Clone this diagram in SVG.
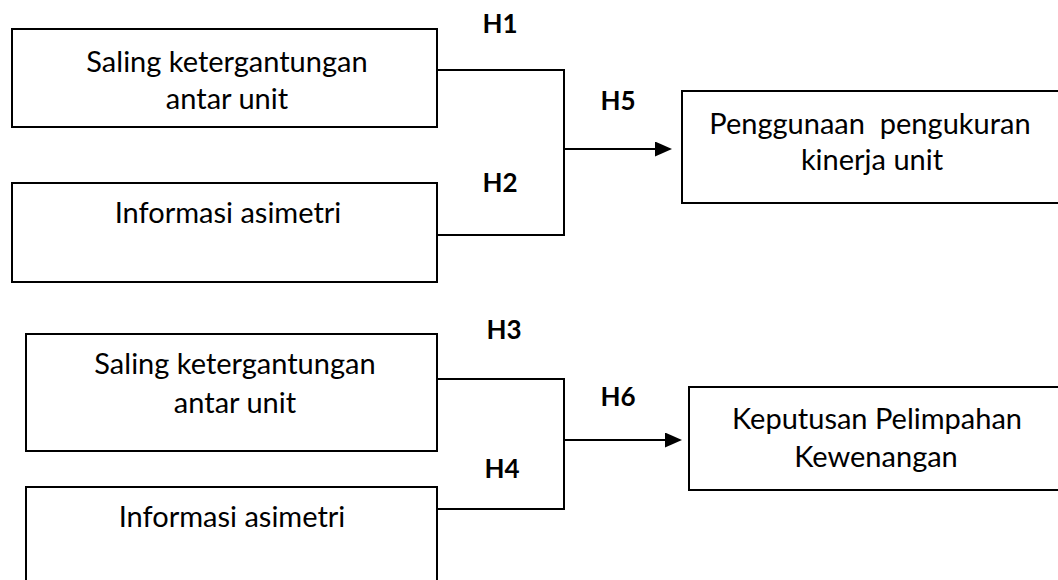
<svg xmlns="http://www.w3.org/2000/svg" width="1058" height="580" viewBox="0 0 1058 580">
<style>
  .box { fill: #ffffff; stroke: #000000; stroke-width: 2; }
  .lbl { font-family: Lato, "Liberation Sans", sans-serif; font-size: 29px; fill: #000000; text-anchor: middle; }
  .h { font-family: Lato, "Liberation Sans", sans-serif; font-size: 26px; font-weight: bold; fill: #000000; text-anchor: middle; }
  .conn { fill: none; stroke: #000000; stroke-width: 2; }
</style>
<defs>
  <marker id="arrow" markerUnits="userSpaceOnUse" markerWidth="17" markerHeight="15" refX="4" refY="7.5" orient="auto">
    <path d="M0,0 L17,7.5 L0,15 Z" fill="#000000"/>
  </marker>
</defs>
<rect width="1058" height="580" fill="#ffffff"/>
<g id="connectors">
  <path class="conn" d="M437,70 H564 V235 H437"/>
  <path class="conn" d="M564,149 H659" marker-end="url(#arrow)"/>
  <path class="conn" d="M437,379 H564 V509 H437"/>
  <path class="conn" d="M564,440 H669" marker-end="url(#arrow)"/>
</g>
<g id="labels">
  <text class="h" x="500" y="33">H1</text>
  <text class="h" x="500" y="192">H2</text>
  <text class="h" x="618" y="110">H5</text>
  <text class="h" x="504" y="339">H3</text>
  <text class="h" x="502" y="478">H4</text>
  <text class="h" x="618" y="406">H6</text>
</g>
<g id="node-saling-1">
  <rect class="box" x="12" y="29" width="425" height="98"/>
  <text class="lbl" x="227" y="72">Saling ketergantungan</text>
  <text class="lbl" x="227" y="109">antar unit</text>
</g>
<g id="node-informasi-1">
  <rect class="box" x="12" y="183" width="425" height="99"/>
  <text class="lbl" x="228" y="223">Informasi asimetri</text>
</g>
<g id="node-penggunaan">
  <rect class="box" x="682" y="91" width="390" height="112"/>
  <text class="lbl" x="870" y="134" xml:space="preserve">Penggunaan  pengukuran</text>
  <text class="lbl" x="872" y="170">kinerja unit</text>
</g>
<g id="node-saling-2">
  <rect class="box" x="26" y="334" width="411" height="117"/>
  <text class="lbl" x="235" y="374">Saling ketergantungan</text>
  <text class="lbl" x="235" y="413">antar unit</text>
</g>
<g id="node-informasi-2">
  <rect class="box" x="26" y="487" width="411" height="110"/>
  <text class="lbl" x="232" y="527">Informasi asimetri</text>
</g>
<g id="node-keputusan">
  <rect class="box" x="689" y="387" width="390" height="103"/>
  <text class="lbl" x="877" y="429">Keputusan Pelimpahan</text>
  <text class="lbl" x="876" y="467">Kewenangan</text>
</g>
</svg>
